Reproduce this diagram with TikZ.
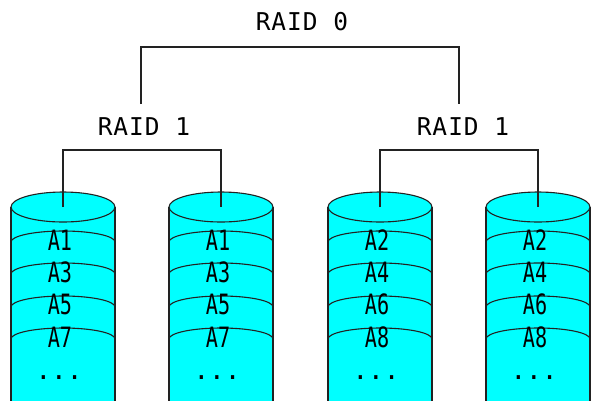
\documentclass[tikz,border=0pt]{standalone}
\usepackage{fontspec}
\newfontfamily\monofont[LetterSpace=4]{DejaVu Sans Mono}
\newfontfamily\dotfont{DejaVu Sans Mono}
\newfontfamily\condfont[FakeStretch=0.72]{DejaVu Sans Mono}
\definecolor{disk}{HTML}{00FFFF}
\definecolor{edge}{HTML}{222222}
\begin{document}
\begin{tikzpicture}[x=1pt,y=-1pt,
  title/.style={font=\monofont\fontsize{24.5}{24.5}\selectfont, inner sep=0pt},
  blk/.style={font=\condfont\fontsize{28}{28}\selectfont, inner sep=0pt},
  dots/.style={font=\dotfont\fontsize{26}{26}\selectfont, inner sep=0pt},
  wire/.style={draw=edge, line width=1.2pt},
  cyl/.style={draw=edge, line width=1.1pt, fill=disk}]
\useasboundingbox (0,0) rectangle (600,400);
\clip (0,0) rectangle (600,400);
% disks
\foreach \cx/\name/\a/\b/\c/\d in {63/d1/A1/A3/A5/A7, 221/d2/A1/A3/A5/A7, 380/d3/A2/A4/A6/A8, 538/d4/A2/A4/A6/A8}{
  \fill[disk] (\cx-52,207) -- (\cx-52,410) -- (\cx+52,410) -- (\cx+52,207) -- cycle;
  \draw[draw=edge, line width=1.1pt] (\cx-52,207) -- (\cx-52,410) (\cx+52,207) -- (\cx+52,410);
  \draw[cyl] (\cx,207) ellipse [x radius=52, y radius=15];
  \coordinate (\name) at (\cx,207);
  \foreach \yy in {242,274,307,339}{
    \draw[draw=edge, line width=1.1pt] (\cx-52,\yy) arc[start angle=180, end angle=360, x radius=52, y radius=11];
  }
  \node[blk] (\name a) at (\cx-3,240) {\a};
  \node[blk] (\name b) at (\cx-3,272) {\b};
  \node[blk] (\name c) at (\cx-3,304) {\c};
  \node[blk] (\name d) at (\cx-3,337) {\d};
  \node[dots] (\name e) at (\cx-4,378) {...};
}
% titles
\node[title] (r0) at (302,22) {RAID 0};
\node[title] (r1a) at (144,127) {RAID 1};
\node[title] (r1b) at (463,127) {RAID 1};
\coordinate (t0l) at (141,104);
\coordinate (t0r) at (459,104);
\draw[wire] (t0l) -- (141,47) -- (459,47) -- (t0r);
\draw[wire] (d1) -- (63,150) -- (221,150) -- (d2);
\draw[wire] (d3) -- (380,150) -- (538,150) -- (d4);
\end{tikzpicture}
\end{document}
